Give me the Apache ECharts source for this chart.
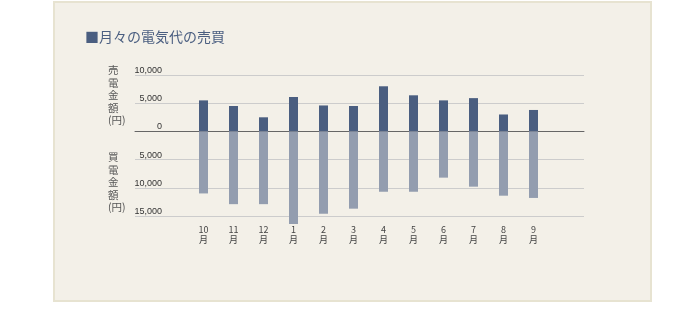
<!DOCTYPE html>
<html>
<head>
<meta charset="utf-8">
<script src="https://cdn.jsdelivr.net/npm/echarts@6/dist/echarts.min.js"></script>
<style>
  html, body { margin: 0; padding: 0; background: #fff; }
  #chart { width: 676px; height: 315px; }
</style>
</head>
<body>
<div id="chart"></div>
<script>
var months = ['10', '11', '12', '1', '2', '3', '4', '5', '6', '7', '8', '9'];
// 売電金額 (円)
var sellValues = [5500, 4500, 2500, 6100, 4600, 4500, 8000, 6400, 5500, 5900, 3000, 3800];
// 買電金額 (円) - drawn below zero
var buyValues = [11000, 12900, 12900, 16400, 14600, 13700, 10700, 10700, 8200, 9800, 11400, 11800];
var yMin = -15000, yMax = 10000, yStep = 5000;

var chart = echarts.init(document.getElementById('chart'));
var jp = '"Noto Sans CJK JP", sans-serif';

function fmt(v) {
  return Math.abs(v).toString().replace(/\B(?=(\d{3})+(?!\d))/g, ',');
}

var option = {
  animation: false,
  backgroundColor: '#fff',
  title: {
    text: '■月々の電気代の売買',
    left: 80,
    top: 25,
    textStyle: { color: '#4a5e80', fontSize: 14, fontWeight: 'normal', fontFamily: jp }
  },
  graphic: [
    {
      type: 'rect', z: -10, silent: true,
      shape: { x: 54, y: 2, width: 597, height: 299 },
      style: { fill: '#f3f0e8', stroke: '#e7e3d1', lineWidth: 2 }
    },
    {
      type: 'text', left: 108, top: 64,
      style: { text: '売\n電\n金\n額\n(円)', fill: '#555', font: '10.5px ' + jp, lineHeight: 12.5, align: 'center' }
    },
    {
      type: 'text', left: 108, top: 151,
      style: { text: '買\n電\n金\n額\n(円)', fill: '#555', font: '10.5px ' + jp, lineHeight: 12.5, align: 'center' }
    }
  ],
  grid: [
    { left: 135, right: 92, top: 75, bottom: 99 },
    { left: 188.5, right: 127.5, top: 75, bottom: 99 }
  ],
  xAxis: [
    {
      gridIndex: 0, type: 'value', min: 0, max: 1,
      axisLine: { show: true, onZero: true, lineStyle: { color: '#666', width: 1 } },
      axisTick: { show: false }, axisLabel: { show: false }, splitLine: { show: false }
    },
    {
      gridIndex: 1, type: 'category', data: months,
      axisLine: { show: false, onZero: false },
      axisTick: { show: false },
      axisLabel: {
        margin: 9, color: '#444', fontSize: 9, lineHeight: 9.5, fontFamily: jp,
        formatter: function (v) { return v + '\n月'; }
      }
    }
  ],
  yAxis: [
    {
      gridIndex: 0, type: 'value', min: yMin, max: yMax, interval: yStep,
      axisLine: { show: false }, axisTick: { show: false },
      splitLine: { lineStyle: { color: '#cccccc', width: 1 } },
      axisLabel: {
        margin: -27, align: 'right', verticalAlign: 'bottom',
        color: '#333', fontSize: 9, fontFamily: 'Arial, "Liberation Sans", sans-serif',
        formatter: fmt
      }
    },
    {
      gridIndex: 1, type: 'value', min: yMin, max: yMax, interval: yStep, show: false
    }
  ],
  series: [
    {
      name: '売電', type: 'bar', xAxisIndex: 1, yAxisIndex: 1,
      barWidth: 9, barGap: '-100%', clip: false,
      itemStyle: { color: '#4a5e80' },
      data: sellValues
    },
    {
      name: '買電', type: 'bar', xAxisIndex: 1, yAxisIndex: 1,
      barWidth: 9, barGap: '-100%', clip: false,
      itemStyle: { color: '#939daf' },
      data: buyValues.map(function (v) { return -v; })
    }
  ]
};
chart.setOption(option);
</script>
</body>
</html>
